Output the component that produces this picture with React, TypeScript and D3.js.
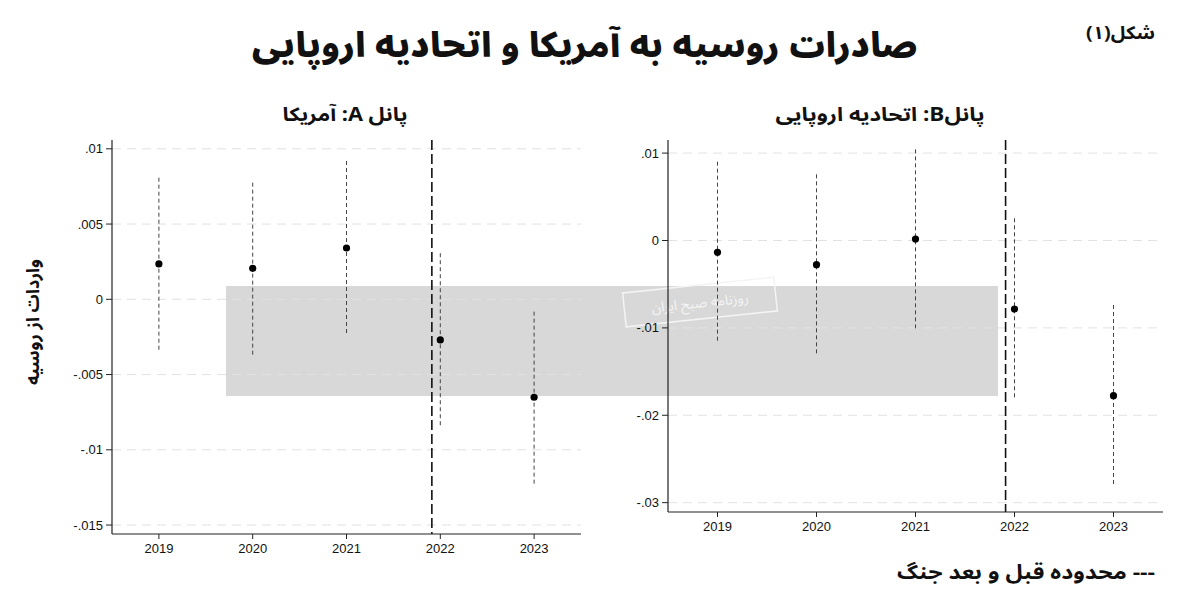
import React from "react";
import * as d3 from "d3";

const years = [2019, 2020, 2021, 2022, 2023];
const usCoef = [0.00235, 0.00206, 0.00341, -0.0027, -0.00651];
const usLower = [-0.00337, -0.0037, -0.00237, -0.00846, -0.01227];
const usUpper = [0.00808, 0.00775, 0.00919, 0.00306, -0.00082];
const euCoef = [-0.00135, -0.00277, 0.00017, -0.00784, -0.01776];
const euLower = [-0.01158, -0.0131, -0.01024, -0.01814, -0.02817];
const euUpper = [0.00902, 0.00757, 0.01043, 0.00254, -0.00738];
const usTicks = [0.01, 0.005, 0, -0.005, -0.01, -0.015];
const usTickLabels = [".01", ".005", "0", "-.005", "-.01", "-.015"];
const euTicks = [0.01, 0, -0.01, -0.02, -0.03];
const euTickLabels = [".01", "0", "-.01", "-.02", "-.03"];
const warYear = 2021.91;

const title = "صادرات روسیه به آمریکا و اتحادیه اروپایی";
const figLabel = "شکل(۱)";
const panelATitle = "پانل A: آمریکا";
const panelBTitle = "پانلB: اتحادیه اروپایی";
const yLabel = "واردات از روسیه";
const legendText = "--- محدوده قبل و بعد جنگ";
const watermarkText = "روزنامه صبح ایران";

const faFont = "'Noto Sans Arabic', 'DejaVu Sans', sans-serif";
const numFont = "'Liberation Sans', Arial, sans-serif";

type PanelProps = {
  x0: number; x1: number; y0: number; y1: number;
  yDomain: [number, number];
  coef: number[]; lower: number[]; upper: number[];
  ticks: number[]; tickLabels: string[];
};

function Panel(p: PanelProps) {
  const x = d3.scaleLinear().domain([2018.5, 2023.5]).range([p.x0, p.x1]);
  const y = d3.scaleLinear().domain(p.yDomain).range([p.y0, p.y1]);
  return (
    <g>
      {p.ticks.map((t, i) => (
        <g key={"t" + i}>
          <line x1={p.x0} x2={p.x1} y1={y(t)} y2={y(t)} stroke="#e2e2e2" strokeWidth={1} strokeDasharray="9,6" />
          <line x1={p.x0 - 6} x2={p.x0} y1={y(t)} y2={y(t)} stroke="#222" strokeWidth={1} />
          <text x={p.x0 - 9} y={y(t)} textAnchor="end" dominantBaseline="central" fontFamily={numFont} fontSize={13} fill="#111">{p.tickLabels[i]}</text>
        </g>
      ))}
      {years.map((yr, i) => (
        <g key={"x" + i}>
          <line x1={x(yr)} x2={x(yr)} y1={p.y1} y2={p.y1 + 5} stroke="#222" strokeWidth={1} />
          <text x={x(yr)} y={p.y1 + 14} textAnchor="middle" dominantBaseline="central" fontFamily={numFont} fontSize={13} fill="#111">{yr}</text>
        </g>
      ))}
      <line x1={x(warYear)} x2={x(warYear)} y1={p.y0} y2={p.y1} stroke="#111" strokeWidth={1.6} strokeDasharray="10,4" />
      {years.map((yr, i) => (
        <g key={"d" + i}>
          <line x1={x(yr)} x2={x(yr)} y1={y(p.upper[i])} y2={y(p.lower[i])} stroke="#444" strokeWidth={1} strokeDasharray="4,3" />
          <circle cx={x(yr)} cy={y(p.coef[i])} r={3.6} fill="#000" />
        </g>
      ))}
      <line x1={p.x0} x2={p.x0} y1={p.y0} y2={p.y1} stroke="#222" strokeWidth={1.2} />
      <line x1={p.x0} x2={p.x1} y1={p.y1} y2={p.y1} stroke="#222" strokeWidth={1.2} />
    </g>
  );
}

export default function App() {
  return (
    <svg width={1200} height={606} style={{ position: "absolute", left: 0, top: 0, background: "#fff" }}>
      <rect x={0} y={0} width={1200} height={606} fill="#fff" />
      <rect x={226} y={286} width={772} height={110} fill="#d8d8d8" />
      <g transform="translate(700,302) rotate(-6)">
        <rect x={-76} y={-17} width={152} height={34} fill="none" stroke="#f4f4f4" strokeWidth={1.5} />
        <text x={0} y={1} textAnchor="middle" dominantBaseline="central" fontFamily={faFont} fontSize={14} fill="#f4f4f4">{watermarkText}</text>
      </g>
      <Panel x0={112} x1={581} y0={140} y1={534} yDomain={[0.010585, -0.015595]}
        coef={usCoef} lower={usLower} upper={usUpper} ticks={usTicks} tickLabels={usTickLabels} />
      <Panel x0={668} x1={1163} y0={140} y1={512} yDomain={[0.0115, -0.03107]}
        coef={euCoef} lower={euLower} upper={euUpper} ticks={euTicks} tickLabels={euTickLabels} />
      <text x={585} y={46} textAnchor="middle" dominantBaseline="central" fontFamily={faFont} fontSize={34} fontWeight={900} fill="#111" direction="rtl" textLength={666} lengthAdjust="spacingAndGlyphs">{title}</text>
      <text x={1155} y={33} textAnchor="start" dominantBaseline="central" fontFamily={faFont} fontSize={18} fontWeight={700} fill="#111" direction="rtl" textLength={69} lengthAdjust="spacingAndGlyphs">{figLabel}</text>
      <text x={345} y={115} textAnchor="middle" dominantBaseline="central" fontFamily={faFont} fontSize={19} fontWeight={700} fill="#111" direction="rtl" textLength={125} lengthAdjust="spacingAndGlyphs">{panelATitle}</text>
      <text x={880} y={115} textAnchor="middle" dominantBaseline="central" fontFamily={faFont} fontSize={19} fontWeight={700} fill="#111" direction="rtl" textLength={209} lengthAdjust="spacingAndGlyphs">{panelBTitle}</text>
      <text transform="translate(33,322) rotate(-90)" textAnchor="middle" dominantBaseline="central" fontFamily={faFont} fontSize={18} fontWeight={700} fill="#111" direction="rtl">{yLabel}</text>
      <text x={1155} y={573} textAnchor="start" dominantBaseline="central" fontFamily={faFont} fontSize={20} fontWeight={700} fill="#111" direction="rtl" textLength={258} lengthAdjust="spacingAndGlyphs">{legendText}</text>
    </svg>
  );
}
